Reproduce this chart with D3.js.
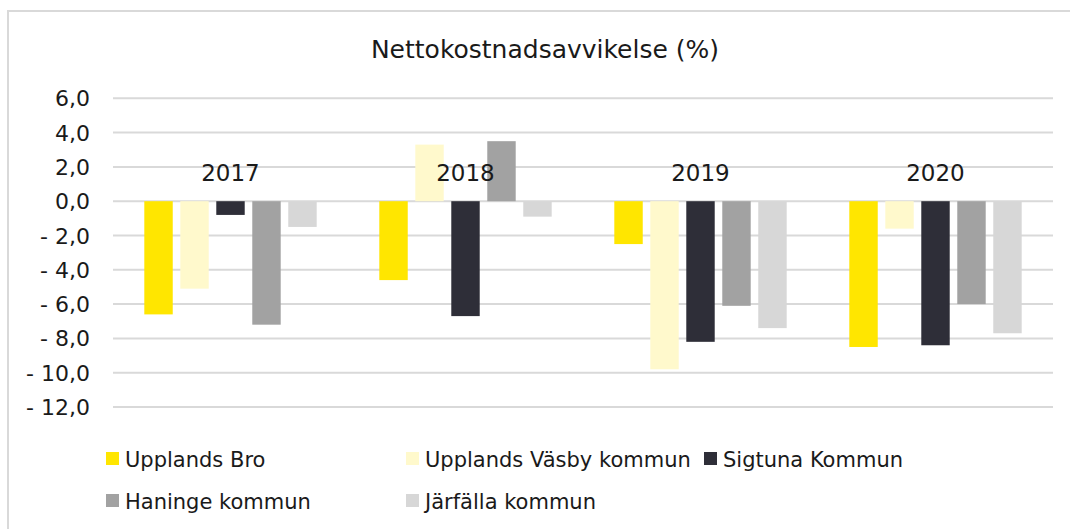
<!DOCTYPE html>
<html>
<head>
<meta charset="utf-8">
<script src="https://cdn.jsdelivr.net/npm/d3@7"></script>
<style>
  body { margin: 0; background: #fff; }
  svg { display: block; font-family: "DejaVu Sans", sans-serif; }
</style>
</head>
<body>
<svg id="chart" width="1070" height="529"></svg>
<script>
const years = ['2017', '2018', '2019', '2020'];
const seriesNames = ['Upplands Bro', 'Upplands Väsby kommun', 'Sigtuna Kommun', 'Haninge kommun', 'Järfälla kommun'];
const seriesColors = ['#FFE600', '#FFF9CC', '#2E2E38', '#A2A2A2', '#D7D7D7'];
const uppBro = [-6.6, -4.6, -2.5, -8.5];
const uppVasby = [-5.1, 3.3, -9.8, -1.6];
const sigtuna = [-0.8, -6.7, -8.2, -8.4];
const haninge = [-7.2, 3.5, -6.1, -6.0];
const jarfalla = [-1.5, -0.9, -7.4, -7.7];
const yTicks = [6, 4, 2, 0, -2, -4, -6, -8, -10, -12];

const seriesValues = [uppBro, uppVasby, sigtuna, haninge, jarfalla];

const svg = d3.select('#chart');

// outer frame (right and bottom fall outside the picture)
svg.append('rect')
  .attr('x', 8).attr('y', 11)
  .attr('width', 1100).attr('height', 600)
  .attr('fill', 'none')
  .attr('stroke', '#D9D9D9')
  .attr('stroke-width', 2);

svg.append('text')
  .text('Nettokostnadsavvikelse (%)')
  .attr('x', 545).attr('y', 58)
  .attr('text-anchor', 'middle')
  .style('font-size', '25px')
  .attr('fill', '#1a1a1a');

const Y = d3.scaleLinear().domain([-12, 6]).range([407, 98.3]);
const X0 = d3.scaleBand().domain(years).range([113, 1053]);
const X1 = d3.scaleBand().domain(d3.range(seriesNames.length))
  .range([0, X0.bandwidth()])
  .paddingInner(0.21)
  .paddingOuter(0.87);

const fmt = v => (v < 0 ? '- ' : '') + d3.format('.1f')(Math.abs(v)).replace('.', ',');

svg.append('g')
  .selectAll('line')
  .data(yTicks)
  .join('line')
  .attr('x1', 113).attr('x2', 1053)
  .attr('y1', d => Y(d)).attr('y2', d => Y(d))
  .attr('stroke', '#D9D9D9')
  .attr('stroke-width', 2);

svg.append('g')
  .selectAll('text')
  .data(yTicks)
  .join('text')
  .text(fmt)
  .attr('x', 90)
  .attr('y', d => Y(d) + 8)
  .attr('text-anchor', 'end')
  .style('font-size', '22px')
  .attr('fill', '#1a1a1a');

const groups = svg.append('g')
  .selectAll('g')
  .data(years)
  .join('g')
  .attr('transform', d => `translate(${X0(d)},0)`);

groups.selectAll('rect')
  .data((d, i) => seriesValues.map((s, k) => ({ k, v: s[i] })))
  .join('rect')
  .attr('x', d => X1(d.k))
  .attr('width', X1.bandwidth())
  .attr('y', d => Y(Math.max(0, d.v)))
  .attr('height', d => Math.abs(Y(d.v) - Y(0)))
  .attr('fill', d => seriesColors[d.k]);

// category labels sit above the zero line
svg.append('g')
  .selectAll('text')
  .data(years)
  .join('text')
  .text(d => d)
  .attr('x', d => X0(d) + X0.bandwidth() / 2)
  .attr('y', 181)
  .attr('text-anchor', 'middle')
  .style('font-size', '23px')
  .attr('fill', '#1a1a1a');

const legendCols = [106, 406, 704];
const legend = svg.append('g')
  .selectAll('g')
  .data(seriesNames)
  .join('g')
  .attr('transform', (d, i) => `translate(${legendCols[i % 3]},${452 + Math.floor(i / 3) * 42})`);

legend.append('rect')
  .attr('width', 13).attr('height', 13)
  .attr('fill', (d, i) => seriesColors[i]);

legend.append('text')
  .text(d => d)
  .attr('x', 19).attr('y', 14.5)
  .style('font-size', '21px')
  .attr('fill', '#1a1a1a')
  .each(function (d, i) {
    // squeeze a label that would run into the next column
    const col = i % 3;
    if (col < 2) {
      const room = legendCols[col + 1] - legendCols[col] - 19 - 9;
      if (this.getComputedTextLength() > room) {
        d3.select(this).attr('textLength', room).attr('lengthAdjust', 'spacingAndGlyphs');
      }
    }
  });
</script>
</body>
</html>
